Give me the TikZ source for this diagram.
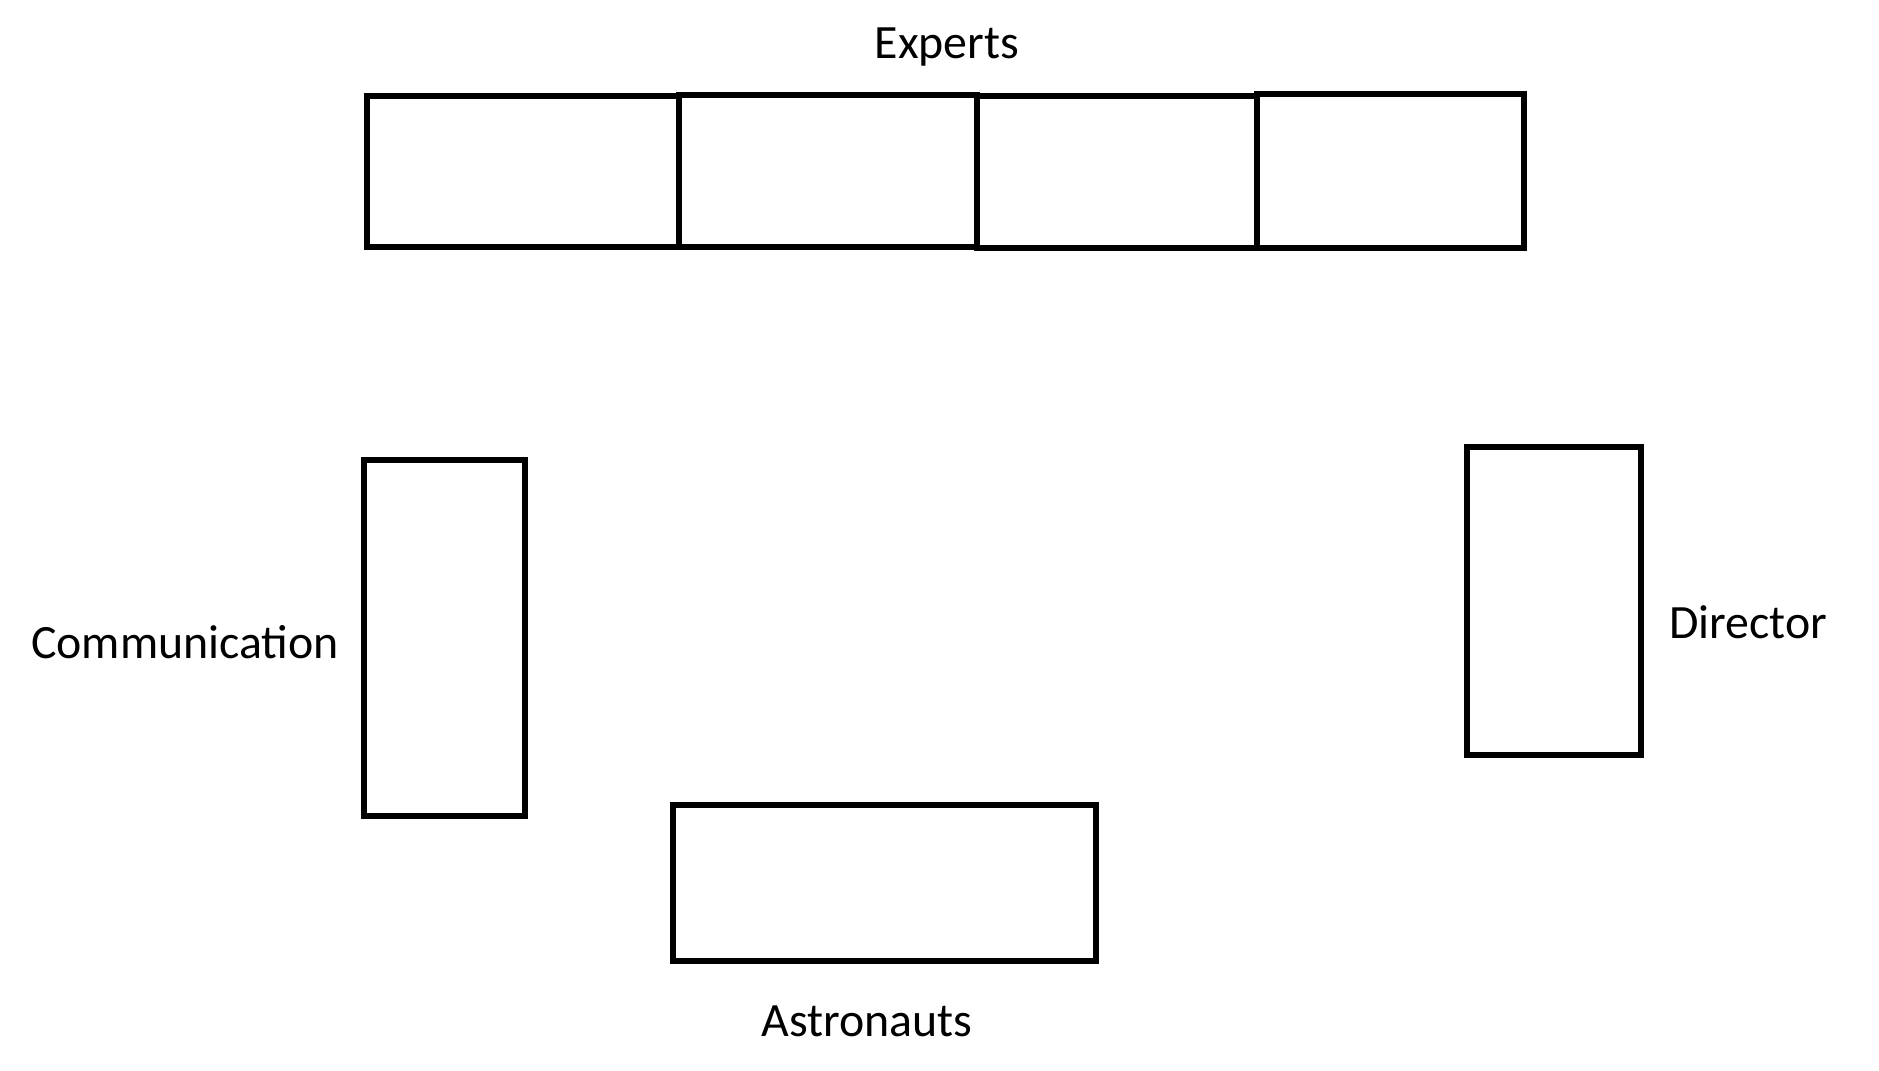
\documentclass[tikz,border=0pt]{standalone}
\usepackage{fontspec}
\setmainfont{Carlito}
\begin{document}
\begin{tikzpicture}[x=0.01cm,y=-0.01cm,line width=1.45pt]
\useasboundingbox (0,0) rectangle (1879,1071);
\tikzset{seat/.style={draw=black},
  role/.style={anchor=base,font=\fontsize{13.6}{16}\selectfont}}
% experts row
\foreach \xa/\xb/\ya/\yb in {367/679/96/247,679/977/95/247,977/1257/96/248,1257/1524/94/248}
  \draw[seat] (\xa,\ya) rectangle (\xb,\yb);
\node[role] (experts) at (947,59) {Experts};
% communication
\draw[seat] (364,460) rectangle (525,816);
\node[role] (comm) at (185,659) {Communication};
% director
\draw[seat] (1467,447) rectangle (1641,755);
\node[role] (director) at (1748,639) {Director};
% astronauts
\draw[seat] (673,805) rectangle (1096,961);
\node[role] (astro) at (867,1037) {Astronauts};
\end{tikzpicture}
\end{document}
